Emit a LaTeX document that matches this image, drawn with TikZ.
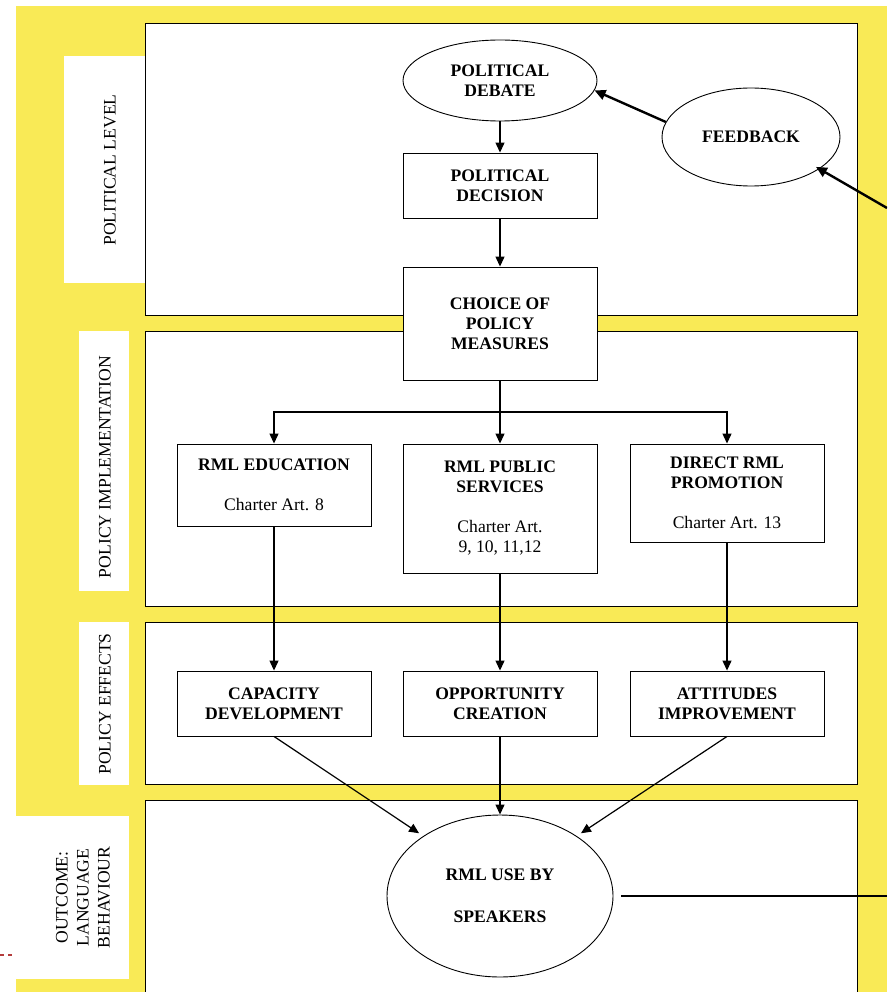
\documentclass[tikz,border=0pt]{standalone}
\usepackage{fontspec}
\setmainfont{Liberation Serif}
\usetikzlibrary{arrows.meta,shapes.geometric}
\definecolor{bandyellow}{RGB}{249,234,86}
\definecolor{markred}{RGB}{180,60,60}
\begin{document}
\begin{tikzpicture}[x=1pt,y=-1pt,
  txt/.style={font=\fontsize{17.6}{20}\selectfont\bfseries, align=center, inner sep=0pt},
  sidetxt/.style={font=\fontsize{17.6}{21}\selectfont, align=center, inner sep=0pt, rotate=90},
  stepbox/.style={txt, draw, fill=white, line width=0.9pt, minimum width=194pt},
  oval/.style={txt, draw, fill=white, ellipse, line width=0.9pt},
  panel/.style={draw, fill=white, line width=1pt},
  tag/.style={fill=white},
  arr/.style={line width=1.2pt, -{Triangle[length=10pt,width=9pt]}},
  fbarr/.style={line width=2.4pt, -{Triangle[length=11pt,width=10pt]}}
]
\useasboundingbox (0,0) rectangle (887,992);
\begin{scope}
\clip (0,0) rectangle (887,992);
% yellow background and the four level panels
\fill[bandyellow] (16,6) rectangle (887,992);
\path[panel] (145,24) rectangle (857,315);
\path[panel] (145,331) rectangle (857,606);
\path[panel] (145,622) rectangle (857,784);
\path[panel] (145,800) rectangle (857,1000);

% level labels on the left
\fill[tag] (64,56) rectangle (145,283);
\fill[tag] (79,331) rectangle (129,591);
\fill[tag] (79,622) rectangle (129,785);
\fill[tag] (16,816) rectangle (129,979);
\node[sidetxt] (lab1) at (110,170) {POLITICAL LEVEL};
\node[sidetxt] (lab2) at (105,467) {POLICY IMPLEMENTATION};
\node[sidetxt] (lab3) at (105,704) {POLICY EFFECTS};
\node[sidetxt] (lab4) at (83,897.5) {OUTCOME:\\LANGUAGE\\BEHAVIOUR};

\draw[markred, line width=1.1pt, dash pattern=on 4pt off 4pt] (0,955) -- (15,955);

% political level
\node[oval, minimum width=194pt, minimum height=81pt] (debate) at (500,80.5) {POLITICAL\\DEBATE};
\node[oval, minimum width=178pt, minimum height=98pt] (feedback) at (751,137) {FEEDBACK};
\node[stepbox, minimum height=65pt] (dec) at (500,185.5) {POLITICAL\\DECISION};
\node[stepbox, minimum height=113pt] (choice) at (500,323.5) {CHOICE OF\\POLICY\\MEASURES};

% policy implementation
\node[stepbox, minimum height=82pt] (edu) at (274,485) {RML EDUCATION\\[20pt]{\mdseries Charter Art. 8}};
\node[stepbox, minimum height=129pt] (pub) at (500,508.5) {RML PUBLIC\\SERVICES\\[20pt]{\mdseries Charter Art.}\\{\mdseries 9, 10, 11,12}};
\node[stepbox, minimum height=98pt] (dir) at (727,493) {DIRECT RML\\PROMOTION\\[20pt]{\mdseries Charter Art. 13}};

% policy effects
\node[stepbox, minimum height=65pt] (cap) at (274,703.5) {CAPACITY\\DEVELOPMENT};
\node[stepbox, minimum height=65pt] (opp) at (500,703.5) {OPPORTUNITY\\CREATION};
\node[stepbox, minimum height=65pt] (att) at (727,703.5) {ATTITUDES\\IMPROVEMENT};

% outcome
\node[oval, minimum width=226pt, minimum height=162pt] (use) at (500,896) {RML USE BY\\[22pt]SPEAKERS};

% connectors
\draw[arr] (debate) -- (dec);
\draw[arr] (dec) -- (choice);
\coordinate (br) at (500,412);
\draw[arr] (choice) -- (pub);
\draw[arr] (br) -| (edu);
\draw[arr] (br) -| (dir);
\draw[arr] (edu) -- (cap);
\draw[arr] (pub) -- (opp);
\draw[arr] (dir) -- (att);
\draw[arr, shorten >=5pt] (cap.south) -- (use.142);
\draw[arr] (opp) -- (use);
\draw[arr, shorten >=5pt] (att.south) -- (use.38);

% feedback loop
\coordinate (fbin) at (887,208);
\coordinate (outR) at (887,896);
\draw[fbarr, shorten >=-4pt] (fbin) -- (feedback.-25);
\draw[fbarr] (feedback.170) -- (debate.-6);
\draw[line width=2pt, shorten <=8pt] (use) -- (outR);
\end{scope}
\end{tikzpicture}
\end{document}
